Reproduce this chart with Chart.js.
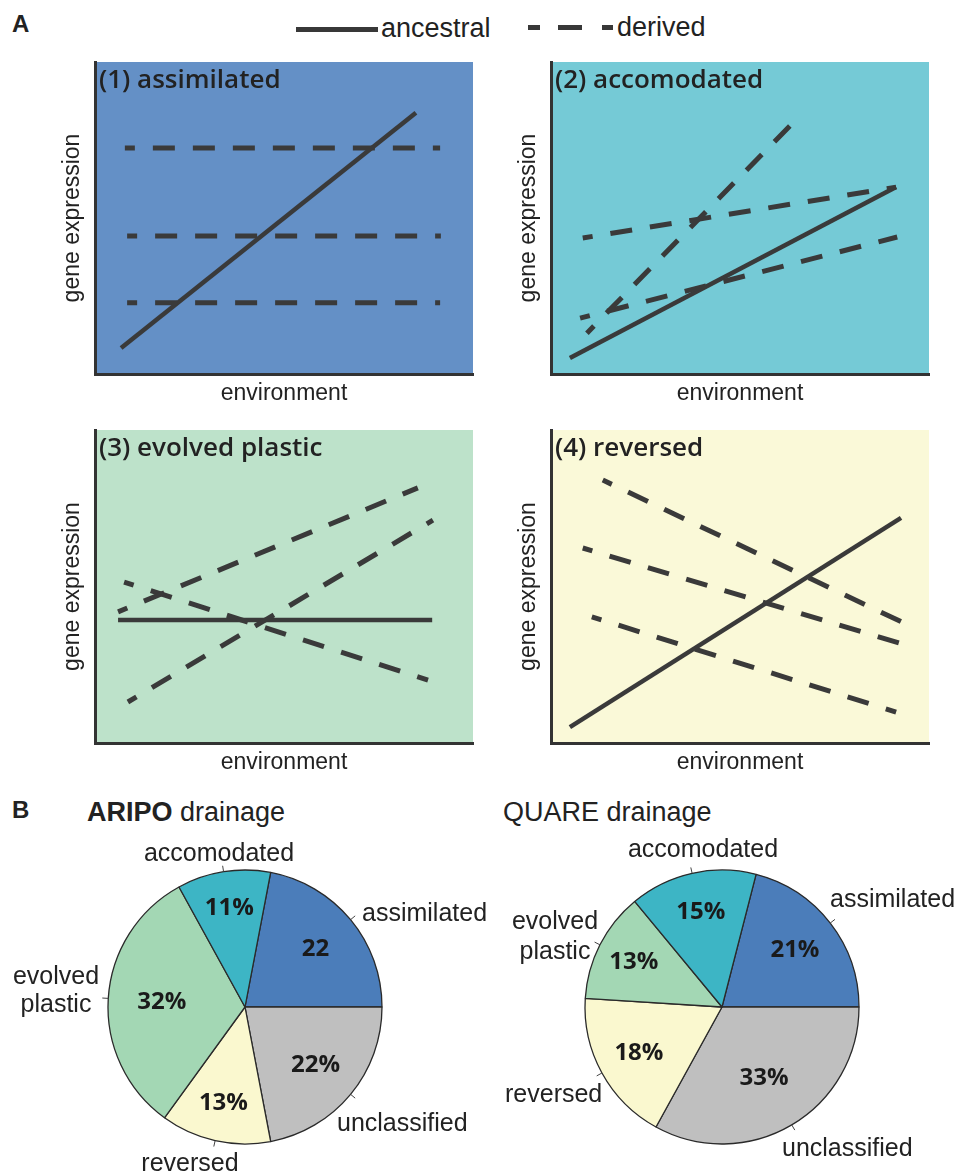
<!DOCTYPE html>
<html>
<head>
<meta charset="utf-8">
<script src="https://cdn.jsdelivr.net/npm/chart.js@4"></script>
<style>
  body { margin:0; background:#fff; width:957px; height:1173px; position:relative; overflow:hidden; font-family:"Liberation Sans", Arial, sans-serif; color:#222; }
  canvas { position:absolute; }
  .t { position:absolute; white-space:nowrap; line-height:1; }
  .c { transform:translate(-50%,-50%); text-align:center; }
  .l { transform:translate(0,-50%); }
  .bar { position:absolute; background:#383838; }
</style>
</head>
<body>
<div class="t l" style="left:12px;top:24px;font-size:24px;font-weight:bold">A</div>
<div class="t l" style="left:12px;top:810px;font-size:24px;font-weight:bold">B</div>

<!-- legenda -->
<div class="bar" style="left:296px;top:27px;width:82px;height:5px"></div>
<div class="t l" style="left:381px;top:28px;font-size:27px">ancestral</div>
<div class="bar" style="left:528px;top:25px;width:12px;height:5px"></div>
<div class="bar" style="left:558px;top:25px;width:24px;height:5px"></div>
<div class="bar" style="left:602px;top:25px;width:11px;height:5px"></div>
<div class="t l" style="left:617px;top:27px;font-size:27px">derived</div>

<canvas id="p1" width="430" height="356" style="left:50px;top:55px"></canvas>
<canvas id="p2" width="430" height="356" style="left:506px;top:55px"></canvas>
<canvas id="p3" width="430" height="357" style="left:50px;top:423px"></canvas>
<canvas id="p4" width="430" height="357" style="left:506px;top:423px"></canvas>

<div class="t l" style="left:87px;top:812px;font-size:27px"><span style="font-weight:bold">ARIPO</span> drainage</div>
<div class="t l" style="left:503px;top:812px;font-size:27px">QUARE drainage</div>

<canvas id="pieA" width="300" height="300" style="left:95px;top:857px"></canvas>
<canvas id="pieQ" width="300" height="300" style="left:572px;top:857px"></canvas>

<!-- rotulos externos das pizzas -->
<div class="t c" style="left:219px;top:852px;font-size:25px">accomodated</div>
<div class="t l" style="left:362px;top:912px;font-size:25px">assimilated</div>
<div class="t c" style="left:56px;top:989px;font-size:25px;line-height:28px">evolved<br>plastic</div>
<div class="t l" style="left:337px;top:1122px;font-size:25px">unclassified</div>
<div class="t c" style="left:190px;top:1162px;font-size:25px">reversed</div>

<div class="t c" style="left:703px;top:848px;font-size:25px">accomodated</div>
<div class="t l" style="left:830px;top:898px;font-size:25px">assimilated</div>
<div class="t c" style="left:555px;top:935px;font-size:25px;line-height:30px">evolved<br>plastic</div>
<div class="t l" style="left:505px;top:1093px;font-size:25px">reversed</div>
<div class="t l" style="left:782px;top:1147px;font-size:25px">unclassified</div>

<script>
// ---- painel A: linhas (escala 0-100 nos dois eixos) ----
const p1Ancestral = [{x:6.9, y:8.3}, {x:84.9, y:83.7}];
const p1Derived = [
  [{x:7.9, y:72.4}, {x:91.3, y:72.4}],
  [{x:8.5, y:44.2}, {x:91.5, y:44.2}],
  [{x:8.5, y:22.8}, {x:91.3, y:22.8}]
];
const p2Ancestral = [{x:5.0, y:5.1}, {x:91.3, y:59.9}];
const p2Derived = [
  [{x:9.5, y:13.1}, {x:63.9, y:80.4}],
  [{x:8.4, y:43.6}, {x:91.3, y:59.9}],
  [{x:7.7, y:17.9}, {x:91.6, y:43.9}]
];
const p3Ancestral = [{x:6.1, y:39.3}, {x:89.2, y:39.3}];
const p3Derived = [
  [{x:8.7, y:13.1}, {x:89.4, y:71.2}],
  [{x:6.1, y:41.9}, {x:85.4, y:81.5}],
  [{x:7.7, y:51.4}, {x:88.1, y:20.1}]
];
const p4Ancestral = [{x:5.0, y:5.1}, {x:92.6, y:71.9}];
const p4Derived = [
  [{x:13.7, y:84.0}, {x:95.5, y:37.1}],
  [{x:8.4, y:62.3}, {x:93.9, y:31.3}],
  [{x:10.8, y:40.3}, {x:91.3, y:9.9}]
];
const panelTitles = ["(1) assimilated", "(2) accomodated", "(3) evolved plastic", "(4) reversed"];

// ---- painel B: pizzas ----
const pieCategories = ["assimilated", "unclassified", "reversed", "evolved plastic", "accomodated"];
const aripoValues = [22, 22, 13, 32, 11];
const quareValues = [21, 33, 18, 13, 15];
const aripoText = ["22", "22%", "13%", "32%", "11%"];
const quareText = ["21%", "33%", "18%", "13%", "15%"];

const LINE = "#3a3a3a";
const panelBg = ["#6490c6", "#75cad6", "#bde2ca", "#faf9d8"];
const pieColors = ["#4b7dba", "#bfbfbf", "#faf8cf", "#a3d7b4", "#3db5c5"];

// fundo + titulo dentro da area do grafico
const panelPlugin = {
  id: "panel",
  beforeDraw(chart, args, opts) {
    const { ctx, chartArea: a } = chart;
    ctx.save();
    ctx.fillStyle = opts.bg;
    ctx.fillRect(a.left, a.top, a.right - a.left, a.bottom - a.top);
    ctx.restore();
  },
  afterDraw(chart, args, opts) {
    const { ctx, chartArea: a } = chart;
    ctx.save();
    ctx.fillStyle = "#222";
    ctx.font = "600 26px 'Open Sans'";
    ctx.textBaseline = "alphabetic";
    ctx.fillText(opts.title, a.left + 4, a.top + 26);
    ctx.restore();
  }
};

function makePanel(id, idx, ancestral, derived) {
  const sets = derived.map(pts => ({
    data: pts, showLine: true, borderColor: LINE, borderWidth: 5,
    borderDash: [22, 18], borderDashOffset: 12, pointRadius: 0, borderCapStyle: "butt"
  }));
  sets.push({ data: ancestral, showLine: true, borderColor: LINE, borderWidth: 4.5, pointRadius: 0 });
  const axisTitle = (text) => ({ display: true, text, color: "#222", font: { family: "'Liberation Sans'", size: 23 } });
  new Chart(document.getElementById(id), {
    type: "scatter",
    data: { datasets: sets },
    options: {
      responsive: false, animation: false,
      layout: { padding: { left: 5, top: 7, right: 7, bottom: 0 } },
      plugins: { legend: { display: false }, tooltip: { enabled: false }, panel: { bg: panelBg[idx], title: panelTitles[idx] } },
      scales: {
        x: { min: 0, max: 100, ticks: { display: false }, grid: { display: false, drawTicks: false },
             border: { display: true, width: 3, color: "#333" }, title: axisTitle("environment"),
             afterFit: s => { s.height = 37; } },
        y: { min: 0, max: 100, ticks: { display: false }, grid: { display: false, drawTicks: false },
             border: { display: true, width: 3, color: "#333" }, title: axisTitle("gene expression"),
             afterFit: s => { s.width = 40; } }
      }
    },
    plugins: [panelPlugin]
  });
}

makePanel("p1", 0, p1Ancestral, p1Derived);
makePanel("p2", 1, p2Ancestral, p2Derived);
makePanel("p3", 2, p3Ancestral, p3Derived);
makePanel("p4", 3, p4Ancestral, p4Derived);

// rotulos internos e tracinhos das pizzas (fatias maiores: rotulo mais perto do centro)
const pieLabels = {
  id: "pieLabels",
  afterDatasetsDraw(chart, args, opts) {
    const { ctx } = chart;
    const arcs = chart.getDatasetMeta(0).data;
    const vals = chart.data.datasets[0].data;
    ctx.save();
    arcs.forEach((arc, i) => {
      const mid = (arc.startAngle + arc.endAngle) / 2;
      const r = arc.outerRadius;
      ctx.strokeStyle = "#444";
      ctx.lineWidth = 1;
      ctx.beginPath();
      ctx.moveTo(arc.x + Math.cos(mid) * r, arc.y + Math.sin(mid) * r);
      ctx.lineTo(arc.x + Math.cos(mid) * (r + 6), arc.y + Math.sin(mid) * (r + 6));
      ctx.stroke();
      const f = 0.8 - 0.006 * vals[i];
      ctx.fillStyle = "#1a1a1a";
      ctx.font = "bold 24px 'Open Sans'";
      ctx.textAlign = "center";
      ctx.textBaseline = "middle";
      ctx.fillText(opts.text[i], arc.x + Math.cos(mid) * r * f, arc.y + Math.sin(mid) * r * f);
    });
    ctx.restore();
  }
};

function makePie(id, values, text) {
  new Chart(document.getElementById(id), {
    type: "pie",
    data: { labels: pieCategories, datasets: [{ data: values, backgroundColor: pieColors, borderColor: "#2a2a2a", borderWidth: 1.3 }] },
    options: {
      responsive: false, animation: false, radius: 137,
      rotation: 90 - values[0] * 3.6,
      plugins: { legend: { display: false }, tooltip: { enabled: false }, pieLabels: { text } }
    },
    plugins: [pieLabels]
  });
}

makePie("pieA", aripoValues, aripoText);
makePie("pieQ", quareValues, quareText);
</script>
</body>
</html>
